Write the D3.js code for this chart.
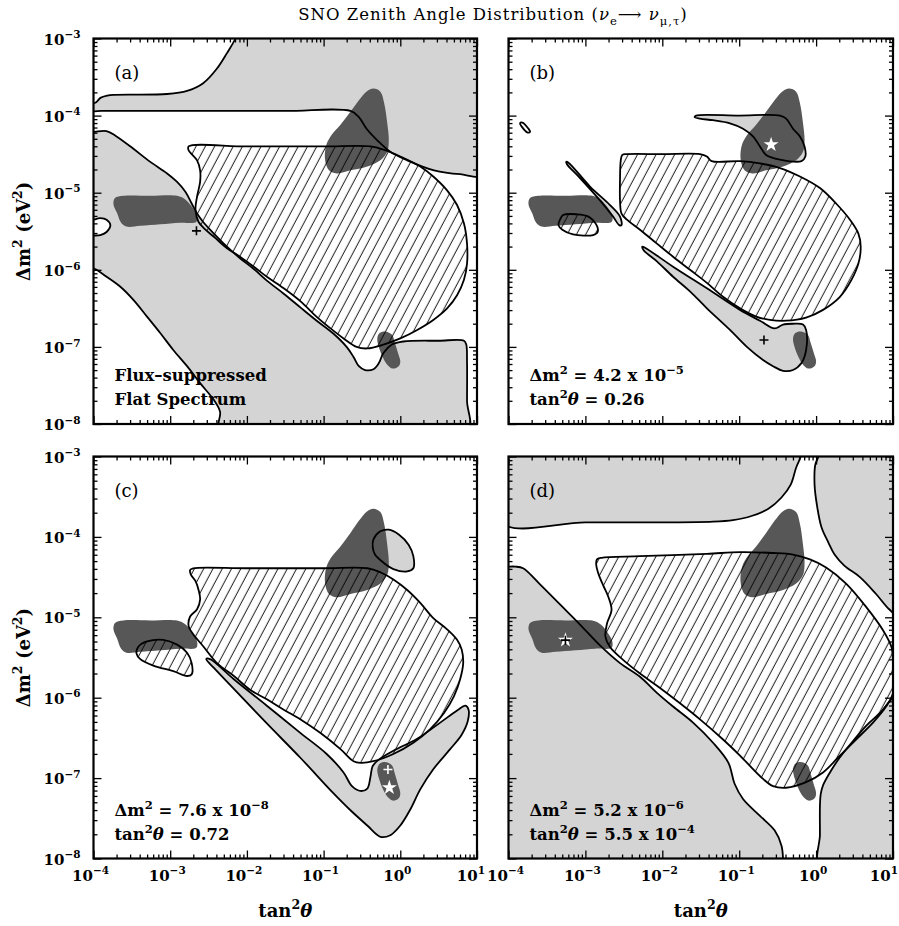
<!DOCTYPE html>
<html><head><meta charset="utf-8">
<script src="https://cdn.jsdelivr.net/npm/d3@7"></script>
<style>body{margin:0;background:#fff}svg{display:block}</style>
</head><body>
<svg id="chart" width="899" height="926"></svg>
<script>
// ---------------- DATA (each vertex = [log10(tan²θ), log10(Δm²)]) ----------------
const xDomain = [1e-4, 10];
const yDomain = [1e-8, 1e-3];
const xMajorExp = [-4, -3, -2, -1, 0, 1];
const yMajorExp = [-3, -4, -5, -6, -7, -8];
const panelIds = ["a", "b", "c", "d"];

// dark global allowed regions (same in every panel)
const darkLMA = [[-0.35,-3.65],[-0.26,-3.69],[-0.21,-3.84],[-0.17,-4.10],[-0.15,-4.32],[-0.17,-4.47],[-0.26,-4.58],[-0.43,-4.66],[-0.65,-4.71],[-0.83,-4.75],[-0.93,-4.71],[-0.98,-4.58],[-0.97,-4.40],[-0.91,-4.27],[-0.78,-4.12],[-0.65,-3.95],[-0.54,-3.80],[-0.43,-3.68]];
const darkSMA = [[-3.72,-5.07],[-3.61,-5.04],[-3.26,-5.04],[-2.91,-5.04],[-2.80,-5.09],[-2.72,-5.18],[-2.65,-5.30],[-2.66,-5.38],[-2.87,-5.39],[-3.13,-5.41],[-3.39,-5.43],[-3.57,-5.44],[-3.64,-5.39],[-3.69,-5.27],[-3.74,-5.15]];
const darkLOW = [[-0.20,-6.80],[-0.11,-6.84],[-0.07,-6.95],[-0.03,-7.08],[0.0,-7.19],[-0.02,-7.25],[-0.10,-7.28],[-0.17,-7.23],[-0.23,-7.13],[-0.28,-7.00],[-0.30,-6.89],[-0.27,-6.82]];

// panel (a)
const grayA_top = [[-4.1,-3.94],[-4.1,-3.87],[-3.97,-3.83],[-3.91,-3.77],[-3.82,-3.74],[-3.74,-3.73],[-3.04,-3.72],[-2.78,-3.68],[-2.57,-3.58],[-2.39,-3.39],[-2.26,-3.19],[-2.15,-3.0],[-2.12,-2.9],[1.1,-2.9],[1.1,-4.76],[0.78,-4.76],[0.44,-4.71],[0.09,-4.58],[-0.13,-4.47],[-0.30,-4.32],[-0.44,-4.17],[-0.54,-4.02],[-0.65,-3.94],[-1.5,-3.94],[-3.0,-3.94],[-3.9,-3.94]];
const grayA_low = [[-4.1,-4.23],[-3.98,-4.21],[-3.83,-4.20],[-3.70,-4.27],[-3.48,-4.43],[-3.26,-4.60],[-3.04,-4.75],[-2.91,-4.86],[-2.80,-4.99],[-2.72,-5.14],[-2.65,-5.27],[-2.57,-5.38],[-2.43,-5.53],[-2.26,-5.70],[-2.09,-5.85],[-1.91,-5.99],[-1.74,-6.14],[-1.52,-6.31],[-1.30,-6.49],[-1.09,-6.66],[-0.87,-6.83],[-0.70,-7.00],[-0.61,-7.13],[-0.54,-7.25],[-0.46,-7.30],[-0.35,-7.29],[-0.28,-7.21],[-0.22,-7.08],[-0.11,-6.97],[0.04,-6.93],[0.5,-6.92],[0.83,-6.92],[0.86,-6.97],[0.87,-7.2],[0.87,-7.7],[0.87,-8.1],[-2.35,-8.1],[-2.35,-7.84],[-2.43,-7.69],[-2.61,-7.47],[-2.78,-7.25],[-2.96,-7.04],[-3.13,-6.82],[-3.30,-6.61],[-3.48,-6.39],[-3.65,-6.22],[-3.83,-6.09],[-3.96,-6.00],[-4.1,-5.92],[-4.1,-5.58],[-3.91,-5.55],[-3.83,-5.51],[-3.78,-5.42],[-3.83,-5.35],[-3.91,-5.33],[-4.1,-5.35]];
const hatchA = [[-2.76,-4.40],[-2.0,-4.40],[-1.0,-4.40],[-0.39,-4.40],[-0.22,-4.44],[0.0,-4.53],[0.26,-4.66],[0.43,-4.79],[0.61,-4.97],[0.74,-5.16],[0.83,-5.40],[0.87,-5.66],[0.87,-5.92],[0.83,-6.13],[0.74,-6.33],[0.61,-6.50],[0.43,-6.65],[0.22,-6.78],[0.0,-6.89],[-0.22,-6.97],[-0.43,-7.02],[-0.57,-7.00],[-0.74,-6.89],[-0.91,-6.76],[-1.09,-6.61],[-1.30,-6.41],[-1.52,-6.24],[-1.74,-6.09],[-1.91,-5.96],[-2.09,-5.83],[-2.26,-5.72],[-2.41,-5.59],[-2.54,-5.48],[-2.63,-5.38],[-2.67,-5.22],[-2.65,-5.05],[-2.61,-4.86],[-2.61,-4.71],[-2.65,-4.58],[-2.72,-4.50],[-2.76,-4.45]];

// panel (b)
const grayB_tri = [[-1.58,-4.02],[-1.56,-4.00],[-1.0,-4.00],[-0.47,-4.00],[-0.39,-4.04],[-0.30,-4.17],[-0.21,-4.27],[-0.15,-4.40],[-0.14,-4.53],[-0.19,-4.59],[-0.47,-4.57],[-0.65,-4.51],[-0.73,-4.40],[-0.82,-4.27],[-0.95,-4.17],[-1.12,-4.10],[-1.34,-4.06],[-1.51,-4.04]];
const grayB_sliver = [[-3.25,-4.60],[-3.22,-4.61],[-2.94,-4.92],[-2.68,-5.16],[-2.55,-5.31],[-2.53,-5.42],[-2.56,-5.42],[-2.64,-5.31],[-2.81,-5.10],[-3.07,-4.81],[-3.24,-4.63]];
const grayB_wedge = [[-2.26,-5.70],[-2.23,-5.71],[-1.86,-5.96],[-1.42,-6.24],[-0.99,-6.52],[-0.73,-6.66],[-0.54,-6.76],[-0.43,-6.71],[-0.30,-6.70],[-0.17,-6.71],[-0.13,-6.78],[-0.13,-7.04],[-0.19,-7.21],[-0.30,-7.30],[-0.43,-7.31],[-0.56,-7.25],[-0.69,-7.17],[-0.90,-7.00],[-1.12,-6.78],[-1.42,-6.50],[-1.64,-6.28],[-1.86,-6.09],[-2.07,-5.89],[-2.24,-5.75]];
const hatchB = [[-2.52,-4.51],[-2.46,-4.50],[-2.0,-4.50],[-1.51,-4.50],[-1.42,-4.53],[-1.36,-4.59],[-0.99,-4.59],[-0.73,-4.62],[-0.47,-4.68],[-0.21,-4.79],[0.05,-4.94],[0.26,-5.14],[0.44,-5.35],[0.55,-5.53],[0.58,-5.70],[0.55,-5.92],[0.46,-6.13],[0.31,-6.35],[0.09,-6.52],[-0.13,-6.62],[-0.39,-6.66],[-0.60,-6.65],[-0.77,-6.61],[-0.99,-6.50],[-1.21,-6.35],[-1.42,-6.17],[-1.64,-6.00],[-1.86,-5.83],[-2.07,-5.66],[-2.29,-5.48],[-2.46,-5.35],[-2.53,-5.27],[-2.55,-5.10],[-2.55,-4.84],[-2.54,-4.58]];
const hatchB_small = [[-3.33,-5.35],[-3.29,-5.29],[-3.11,-5.28],[-2.96,-5.31],[-2.86,-5.41],[-2.84,-5.51],[-2.90,-5.55],[-3.16,-5.54],[-3.30,-5.48],[-3.35,-5.42]];
const lineB_ellipse = [[-3.85,-4.10],[-3.82,-4.09],[-3.74,-4.17],[-3.72,-4.21],[-3.75,-4.22],[-3.83,-4.14]];

// panel (c)
const grayC_oval = [[-0.35,-4.03],[-0.26,-3.93],[-0.15,-3.91],[-0.02,-3.97],[0.11,-4.10],[0.17,-4.24],[0.17,-4.39],[0.09,-4.43],[-0.09,-4.40],[-0.22,-4.32],[-0.33,-4.22],[-0.36,-4.12]];
const grayC_wedge = [[-2.53,-5.52],[-2.48,-5.52],[-2.17,-5.77],[-1.74,-6.10],[-1.30,-6.44],[-0.96,-6.70],[-0.74,-6.93],[-0.63,-7.10],[-0.52,-7.16],[-0.43,-7.13],[-0.39,-6.99],[-0.36,-6.85],[-0.28,-6.77],[-0.09,-6.66],[0.22,-6.51],[0.52,-6.31],[0.74,-6.16],[0.85,-6.10],[0.89,-6.15],[0.88,-6.29],[0.80,-6.46],[0.65,-6.64],[0.43,-6.89],[0.26,-7.14],[0.13,-7.39],[0.0,-7.59],[-0.13,-7.71],[-0.26,-7.73],[-0.43,-7.59],[-0.65,-7.40],[-0.87,-7.19],[-1.30,-6.75],[-1.74,-6.32],[-2.17,-5.89],[-2.43,-5.63]];
const hatchC = [[-2.74,-4.41],[-2.70,-4.39],[-2.0,-4.39],[-1.0,-4.39],[-0.43,-4.39],[-0.26,-4.44],[-0.09,-4.53],[0.09,-4.66],[0.26,-4.82],[0.43,-5.01],[0.61,-5.15],[0.74,-5.28],[0.80,-5.40],[0.82,-5.57],[0.78,-5.77],[0.70,-5.98],[0.57,-6.19],[0.39,-6.39],[0.17,-6.56],[-0.09,-6.70],[-0.35,-6.79],[-0.52,-6.81],[-0.61,-6.79],[-0.78,-6.64],[-1.04,-6.44],[-1.30,-6.27],[-1.52,-6.15],[-1.74,-6.02],[-1.96,-5.90],[-2.17,-5.73],[-2.39,-5.57],[-2.57,-5.36],[-2.70,-5.21],[-2.76,-5.11],[-2.74,-4.99],[-2.65,-4.90],[-2.61,-4.78],[-2.63,-4.66],[-2.67,-4.55],[-2.73,-4.47]];
const hatchC_small = [[-3.41,-5.36],[-3.30,-5.30],[-3.09,-5.28],[-2.91,-5.34],[-2.78,-5.44],[-2.72,-5.57],[-2.72,-5.71],[-2.78,-5.73],[-2.96,-5.67],[-3.22,-5.60],[-3.39,-5.52],[-3.44,-5.45]];

// panel (d)
const grayD_top = [[-4.1,-2.9],[-0.19,-2.9],[-0.20,-3.0],[-0.26,-3.14],[-0.33,-3.35],[-0.45,-3.51],[-0.62,-3.65],[-0.84,-3.74],[-1.08,-3.79],[-1.34,-3.81],[-2.0,-3.82],[-3.0,-3.82],[-4.1,-3.82]];
const grayD_right = [[0.04,-2.9],[0.03,-3.0],[-0.01,-3.10],[-0.02,-3.35],[0.01,-3.60],[0.07,-3.88],[0.16,-4.07],[0.24,-4.22],[0.37,-4.36],[0.57,-4.50],[0.78,-4.71],[0.95,-4.90],[1.1,-5.0],[1.1,-2.9]];
const grayD_lowleft = [[-4.1,-4.39],[-3.98,-4.37],[-3.91,-4.37],[-3.81,-4.39],[-3.59,-4.59],[-3.33,-4.84],[-3.07,-5.09],[-2.81,-5.35],[-2.55,-5.57],[-2.29,-5.74],[-2.07,-5.94],[-1.86,-6.11],[-1.60,-6.31],[-1.34,-6.56],[-1.14,-6.81],[-1.06,-7.07],[-0.95,-7.26],[-0.73,-7.47],[-0.54,-7.65],[-0.45,-7.84],[-0.43,-8.0],[-0.43,-8.1],[-4.1,-8.1]];
const grayD_lowright = [[1.1,-5.95],[1.0,-6.00],[0.83,-6.19],[0.65,-6.35],[0.48,-6.54],[0.31,-6.74],[0.18,-6.93],[0.09,-7.09],[0.06,-7.20],[0.05,-7.34],[0.05,-7.7],[0.05,-8.1],[1.1,-8.1]];
const hatchD = [[-2.85,-4.28],[-2.79,-4.26],[-2.29,-4.24],[-1.42,-4.21],[-0.99,-4.19],[-0.56,-4.20],[-0.30,-4.22],[-0.08,-4.28],[0.13,-4.38],[0.39,-4.58],[0.65,-4.87],[0.87,-5.16],[0.98,-5.37],[1.0,-5.57],[1.0,-5.94],[0.91,-6.11],[0.74,-6.31],[0.52,-6.52],[0.31,-6.72],[0.09,-6.93],[-0.13,-7.05],[-0.39,-7.12],[-0.56,-7.10],[-0.69,-7.01],[-0.99,-6.72],[-1.21,-6.52],[-1.51,-6.27],[-1.77,-6.07],[-2.03,-5.88],[-2.29,-5.70],[-2.51,-5.53],[-2.68,-5.37],[-2.74,-5.24],[-2.72,-5.08],[-2.66,-4.91],[-2.70,-4.75],[-2.77,-4.60],[-2.83,-4.46],[-2.86,-4.34]];

// markers (tan²θ, Δm²)
const plusMarks = [["a",2.2e-3,3.2e-6,"#000"],["b",0.21,1.23e-7,"#000"],["c",0.69,1.28e-7,"#fff"],["d",5.5e-4,5.2e-6,"#000"]];
const starMarks = [["b",0.26,4.2e-5],["c",0.72,7.6e-8],["d",5.5e-4,5.2e-6]];

// annotation texts
const panelNotes = {
  a: [[{t:"Flux\u2013suppressed"}],[{t:"Flat Spectrum"}]],
  b: [[{t:"\u0394m"},{t:"2",s:1},{t:" = 4.2 x 10"},{t:"\u22125",s:1}],[{t:"tan"},{t:"2",s:1},{t:"\u03b8",i:1},{t:" = 0.26"}]],
  c: [[{t:"\u0394m"},{t:"2",s:1},{t:" = 7.6 x 10"},{t:"\u22128",s:1}],[{t:"tan"},{t:"2",s:1},{t:"\u03b8",i:1},{t:" = 0.72"}]],
  d: [[{t:"\u0394m"},{t:"2",s:1},{t:" = 5.2 x 10"},{t:"\u22126",s:1}],[{t:"tan"},{t:"2",s:1},{t:"\u03b8",i:1},{t:" = 5.5 x 10"},{t:"\u22124",s:1}]]
};

const panelShapes = {
  a: {gray:[grayA_top, grayA_low], hatch:[hatchA], lines:[]},
  b: {gray:[grayB_tri, grayB_sliver, grayB_wedge], hatch:[hatchB, hatchB_small], lines:[lineB_ellipse]},
  c: {gray:[grayC_oval, grayC_wedge], hatch:[hatchC, hatchC_small], lines:[]},
  d: {gray:[grayD_top, grayD_right, grayD_lowleft, grayD_lowright], hatch:[hatchD], lines:[]}
};
const darkBlobs = [darkLMA, darkSMA, darkLOW];

// ---------------- LAYOUT ----------------
const layout = {
  a: {x:93.5, y:38.5, w:383.5, h:385.5, xl:false, yl:true},
  b: {x:508.5, y:38.5, w:384.5, h:385.5, xl:false, yl:false},
  c: {x:93.5, y:456.5, w:383.5, h:402, xl:true, yl:true},
  d: {x:508.5, y:456.5, w:384.5, h:402, xl:true, yl:false}
};
const FONT = "'DejaVu Serif', serif";
const LIGHT = "#d4d4d4", DARK = "#575757";

const svg = d3.select("#chart");
const defs = svg.append("defs");
const pat = defs.append("pattern").attr("id","hatch").attr("patternUnits","userSpaceOnUse")
  .attr("width",8.2).attr("height",20).attr("patternTransform","rotate(28)");
pat.append("line").attr("x1",4).attr("x2",4).attr("y1",-2).attr("y2",22)
  .attr("stroke","#000").attr("stroke-width",0.9);

function richText(sel, segs, x, y, size, weight, anchor){
  const t = sel.append("text").attr("x",x).attr("y",y).attr("font-family",FONT)
    .attr("font-size",size).attr("font-weight",weight).attr("text-anchor",anchor||"start")
    .style("white-space","pre");
  let off = 0;
  segs.forEach(s => {
    const sp = t.append("tspan").text(s.t);
    let target = 0;
    if (s.s) target = -size*0.42;
    if (s.sub) target = size*0.32;
    if (target !== off) sp.attr("dy", target - off);
    off = target;
    if (s.s || s.sub) sp.attr("font-size", size*0.7);
    if (s.i) sp.attr("font-style","italic");
  });
  return t;
}

panelIds.forEach(id => {
  const L = layout[id];
  const xs = d3.scaleLog().domain(xDomain).range([L.x, L.x + L.w]);
  const ys = d3.scaleLog().domain(yDomain).range([L.y + L.h, L.y]);
  const line = d3.line().x(p => xs(Math.pow(10,p[0]))).y(p => ys(Math.pow(10,p[1])))
    .curve(d3.curveCatmullRomClosed.alpha(0.5));
  defs.append("clipPath").attr("id","clip"+id).append("rect")
    .attr("x",L.x).attr("y",L.y).attr("width",L.w).attr("height",L.h);
  const g = svg.append("g").attr("clip-path","url(#clip"+id+")");
  const S = panelShapes[id];
  S.gray.forEach(s => g.append("path").attr("d",line(s)).attr("fill",LIGHT));
  darkBlobs.forEach(s => g.append("path").attr("d",line(s)).attr("fill",DARK));
  S.hatch.forEach(s => g.append("path").attr("d",line(s)).attr("fill","url(#hatch)"));
  [...S.gray, ...S.hatch, ...S.lines].forEach(s => g.append("path").attr("d",line(s))
    .attr("fill","none").attr("stroke","#000").attr("stroke-width",1.8).attr("stroke-linejoin","round"));

  // markers
  starMarks.filter(m => m[0]===id).forEach(m => {
    g.append("path").attr("d", d3.symbol(d3.symbolStar, 70)())
      .attr("transform",`translate(${xs(m[1])},${ys(m[2])})`).attr("fill","#fff");
  });
  plusMarks.filter(m => m[0]===id).forEach(m => {
    const r = 4.5;
    g.append("path").attr("d",`M${-r},0H${r}M0,${-r}V${r}`)
      .attr("transform",`translate(${xs(m[1])},${ys(m[2])})`).attr("stroke",m[3]).attr("stroke-width",1.6);
  });

  // ticks
  const all = xs.ticks(); const yAll = ys.ticks();
  const isMajor = v => Math.abs(Math.log10(v) - Math.round(Math.log10(v))) < 1e-6;
  const xMaj = all.filter(isMajor), xMin = all.filter(v => !isMajor(v));
  const yMaj = yAll.filter(isMajor), yMin = yAll.filter(v => !isMajor(v));
  const axes = [
    [d3.axisBottom(xs), `translate(0,${L.y+L.h})`, xMaj, xMin],
    [d3.axisTop(xs), `translate(0,${L.y})`, xMaj, xMin],
    [d3.axisLeft(ys), `translate(${L.x},0)`, yMaj, yMin],
    [d3.axisRight(ys), `translate(${L.x+L.w},0)`, yMaj, yMin]
  ];
  axes.forEach(([ax, tr, maj, min]) => {
    [[maj,-8],[min,-4]].forEach(([vals,len]) => {
      const a = svg.append("g").attr("transform",tr)
        .call(ax.tickValues(vals).tickSize(len).tickFormat(""));
      a.select(".domain").remove();
      a.selectAll("line").attr("stroke","#000").attr("stroke-width",1.3);
    });
  });
  svg.append("rect").attr("x",L.x).attr("y",L.y).attr("width",L.w).attr("height",L.h)
    .attr("fill","none").attr("stroke","#000").attr("stroke-width",2.2);

  // tick labels
  if (L.yl) yMajorExp.forEach(e => {
    richText(svg, [{t:"10"},{t:(e<0?"\u2212":"")+Math.abs(e),s:1}], L.x-13, ys(Math.pow(10,e))+6, 15, "bold", "end");
  });
  if (L.xl) xMajorExp.forEach(e => {
    const last = e === 1;
    const xpos = last ? (id === "d" ? 898 : xs(Math.pow(10,e)) + 8) : xs(Math.pow(10,e)) - 3;
    richText(svg, [{t:"10"},{t:(e<0?"\u2212":"")+Math.abs(e),s:1}], xpos, L.y+L.h+22, 15, "bold", last ? "end" : "middle");
  });

  // panel label and notes
  svg.append("text").attr("x",L.x+21).attr("y",L.y+40).attr("font-family",FONT)
    .attr("font-size",18).text("("+id+")");
  const notes = panelNotes[id];
  notes.forEach((segs,i) => richText(svg, segs, L.x+21, L.y+L.h-43+i*24, 16.5, "bold"));

  // axis titles
  if (L.yl) richText(svg, [{t:"\u0394m"},{t:"2",s:1},{t:" (eV"},{t:"2",s:1},{t:")"}], 0, 0, 18, "bold", "middle")
    .attr("transform",`translate(30,${L.y+L.h/2}) rotate(-90)`);
  if (L.xl) richText(svg, [{t:"tan"},{t:"2",s:1},{t:"\u03b8",i:1}], L.x+L.w/2, L.y+L.h+58, 18, "bold", "middle");
});

// title
richText(svg, [{t:"SNO Zenith Angle Distribution ("},{t:"\u03bd",i:1},{t:"e",sub:1},{t:"\u27f6 "},{t:"\u03bd",i:1},{t:"\u03bc,\u03c4",sub:1},{t:")"}], 493, 20, 16.5, "normal", "middle")
  .attr("letter-spacing", 1);
</script>
</body></html>
